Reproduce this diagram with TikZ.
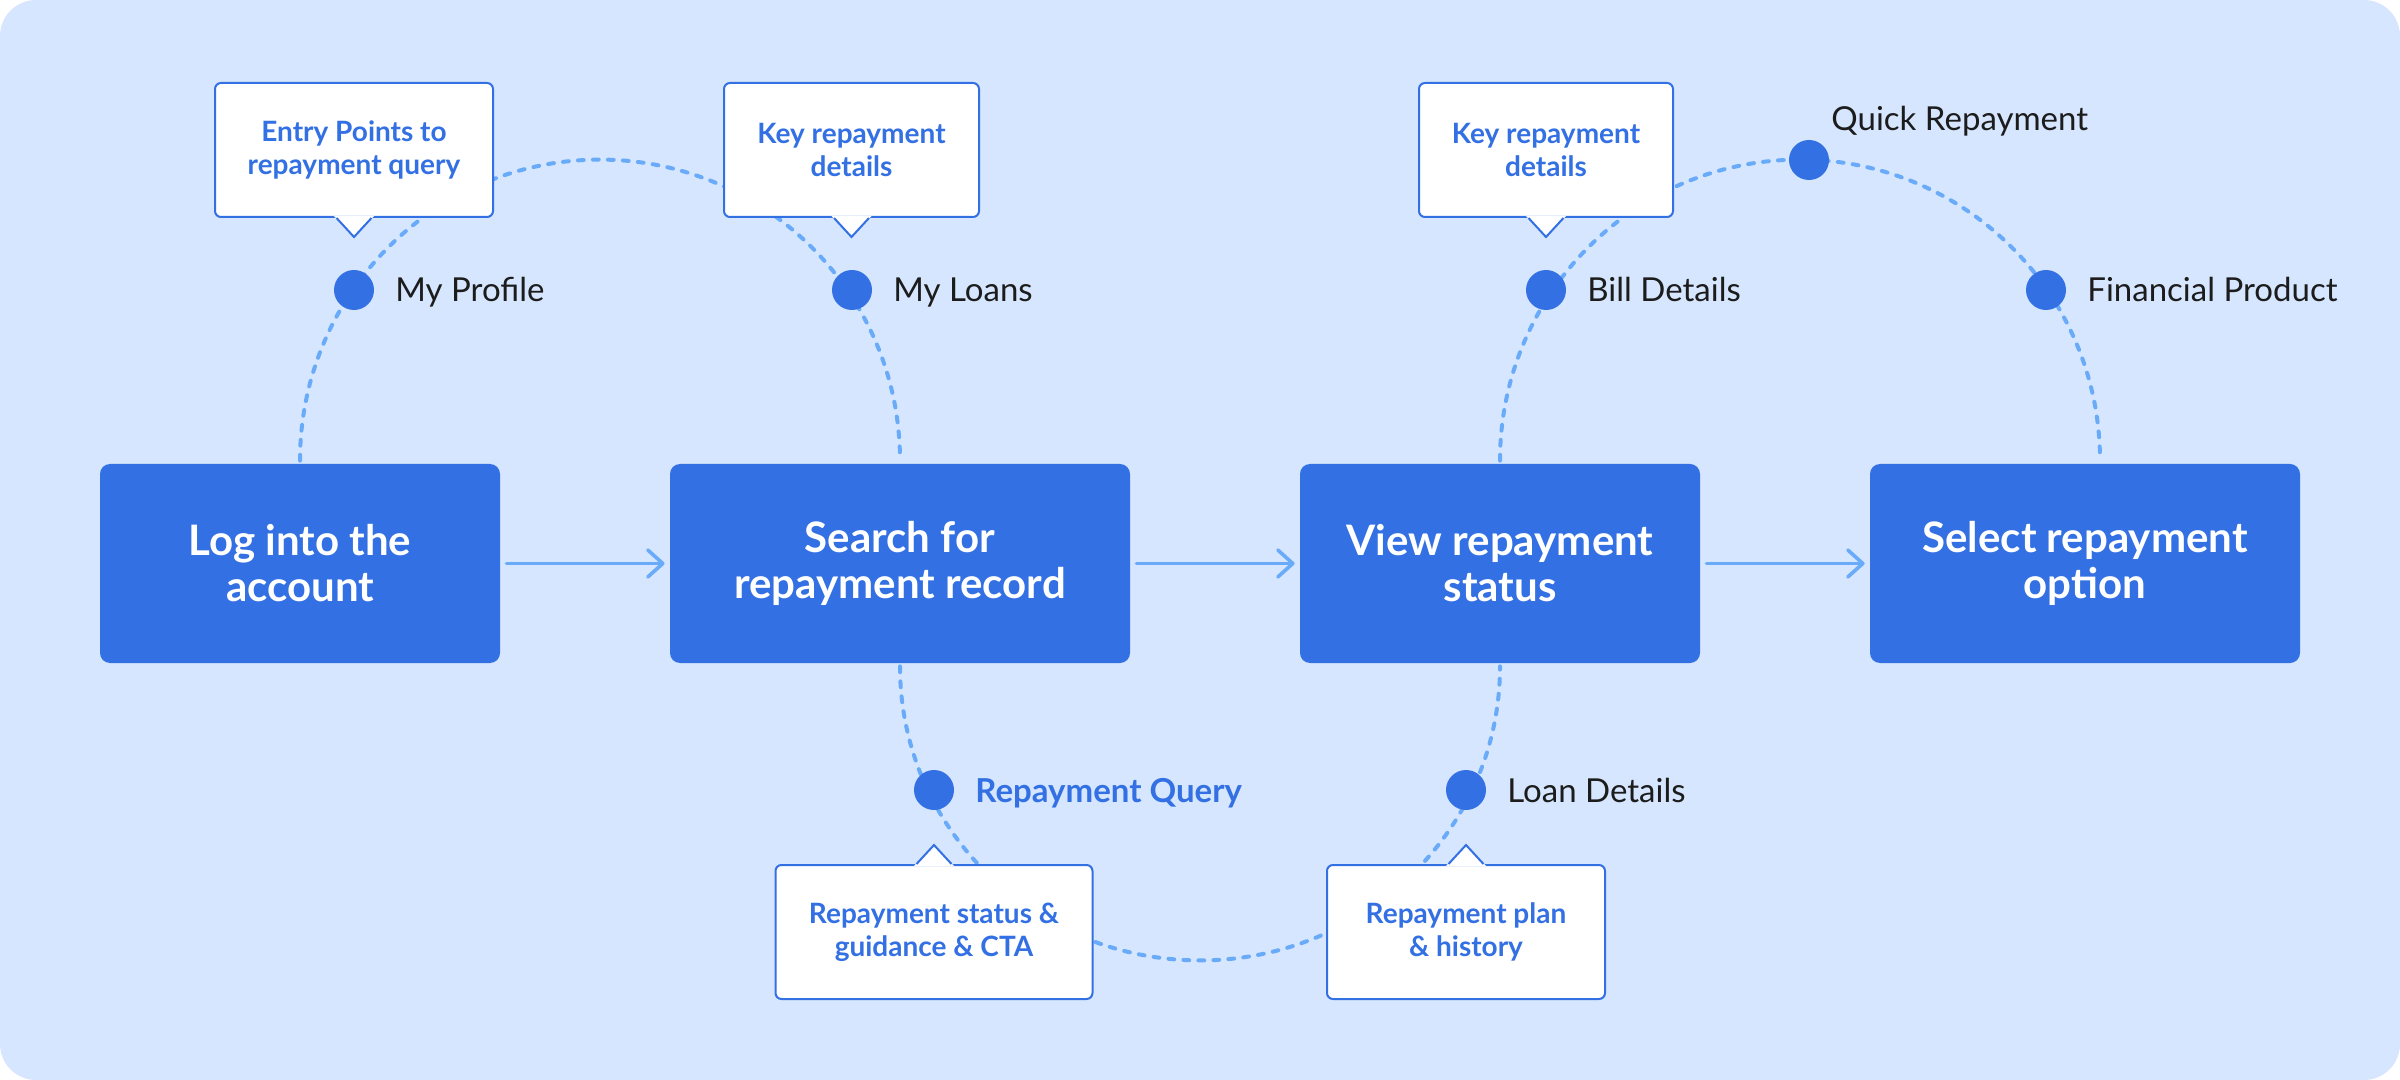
\documentclass[tikz,border=0pt]{standalone}
\usepackage{fontspec}
\setmainfont{Lato}
\usetikzlibrary{arrows.meta,calc}
\definecolor{bgc}{HTML}{D5E6FE}
\definecolor{mainblue}{HTML}{3370E3}
\definecolor{dashc}{HTML}{6AABF9}
\definecolor{labc}{HTML}{1C1C1C}
\newcommand\ptrbelow[1]{%
  \fill[white] ($(#1.south)+(-20,-2)$) -- ($(#1.south)+(0,19)$) -- ($(#1.south)+(20,-2)$) -- cycle;
  \draw[mainblue, line width=1pt, line join=miter] ($(#1.south)+(-17.5,0)$) -- ($(#1.south)+(0,19)$) -- ($(#1.south)+(17.5,0)$);}
\newcommand\ptrabove[1]{%
  \fill[white] ($(#1.north)+(-20,2)$) -- ($(#1.north)+(0,-19)$) -- ($(#1.north)+(20,2)$) -- cycle;
  \draw[mainblue, line width=1pt, line join=miter] ($(#1.north)+(-17.5,0)$) -- ($(#1.north)+(0,-19)$) -- ($(#1.north)+(17.5,0)$);}
\begin{document}
\begin{tikzpicture}[x=0.5pt,y=-0.5pt,
  mainbox/.style={fill=mainblue, rounded corners=5pt, minimum height=99.5pt, inner sep=0pt, text=white, font=\fontsize{21}{23}\selectfont\bfseries, align=center},
  callout/.style={draw=mainblue, line width=1pt, fill=white, rounded corners=3pt, minimum height=67pt, inner sep=0pt, text=mainblue, font=\fontsize{14}{16.5}\selectfont\bfseries, align=center},
  dashline/.style={dashc, line width=2pt, line cap=round, dash pattern=on 2.9pt off 4.6pt},
  flow/.style={dashc, line width=1.8pt, line cap=round, -{Straight Barb[length=7.5pt,width=13.5pt,line cap=round,line join=round]}, shorten <=3pt, shorten >=2.5pt},
  dot/.style={circle, fill=mainblue, minimum size=20pt, inner sep=0pt},
  lbl/.style={text=labc, font=\fontsize{16.5}{19}\selectfont, anchor=base west, inner sep=0pt},
  lblb/.style={lbl, text=mainblue, font=\fontsize{16.5}{19}\selectfont\bfseries},
]
\fill[bgc, rounded corners=18pt] (0,0) rectangle (2400,1080);
\useasboundingbox (0,0) rectangle (2400,1080);

% main steps
\node[mainbox, minimum width=200pt] (b1) at (300,563.5) {Log into the\\account};
\node[mainbox, minimum width=230pt] (b2) at (900,563.5) {Search for\\repayment record};
\node[mainbox, minimum width=200pt] (b3) at (1500,563.5) {View repayment\\status};
\node[mainbox, minimum width=215pt] (b4) at (2085,563.5) {Select repayment\\option};

% dashed arcs
\draw[dashline] ($(b1.north)+(0,-3)$) arc[start angle=180, end angle=0, x radius=150pt, y radius=150.5pt];
\draw[dashline] ($(b2.south)+(0,3)$) arc[start angle=180, end angle=360, x radius=150pt, y radius=147pt];
\draw[dashline] ($(b3.north)+(0,-3)$) arc[start angle=180, end angle=0, x radius=150pt, y radius=150.5pt];

% flow arrows
\draw[flow] (b1) -- (b2);
\draw[flow] (b2) -- (b3);
\draw[flow] (b3) -- (b4);

% callouts
\node[callout, minimum width=139pt] (c1) at (354,150) {Entry Points to\\repayment query};
\node[callout, minimum width=127.5pt] (c2) at (851.5,150) {Key repayment\\details};
\node[callout, minimum width=127pt] (c3) at (1546,150) {Key repayment\\details};
\node[callout, minimum width=158.5pt] (c4) at (934,932) {Repayment status \&\\guidance \& CTA};
\node[callout, minimum width=139pt] (c5) at (1466,932) {Repayment plan\\\& history};
\ptrbelow{c1}
\ptrbelow{c2}
\ptrbelow{c3}
\ptrabove{c4}
\ptrabove{c5}

% dots
\node[dot] (d1) at (354,290) {};
\node[dot] (d2) at (852,290) {};
\node[dot] (d3) at (1546,290) {};
\node[dot] (d4) at (1809,160) {};
\node[dot] (d5) at (2046,290) {};
\node[dot] (d6) at (934,790) {};
\node[dot] (d7) at (1466,790) {};

% labels
\node[lbl] (l1) at ($(d1)+(41,12)$) {My Profile};
\node[lbl] (l2) at ($(d2)+(41,12)$) {My Loans};
\node[lbl] (l3) at ($(d3)+(41,12)$) {Bill Details};
\node[lbl] (l4) at ($(d4)+(22,-29)$) {Quick Repayment};
\node[lbl] (l5) at ($(d5)+(41,12)$) {Financial Product};
\node[lblb] (l6) at ($(d6)+(41,12)$) {Repayment Query};
\node[lbl] (l7) at ($(d7)+(41,12)$) {Loan Details};
\end{tikzpicture}
\end{document}
